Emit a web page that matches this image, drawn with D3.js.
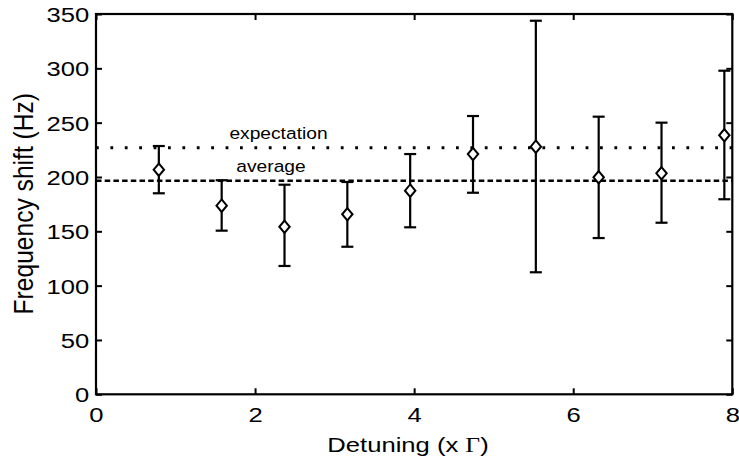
<!DOCTYPE html>
<html><head><meta charset="utf-8">
<script src="https://cdn.jsdelivr.net/npm/d3@7"></script>
<style>html,body{margin:0;padding:0;background:#fff;}svg{display:block;}</style>
</head><body>
<svg id="chart" width="739" height="464"></svg>
<script>
const detuning = [0.79, 1.58, 2.37, 3.16, 3.95, 4.74, 5.53, 6.32, 7.11, 7.90];
const shift    = [206.7, 173.6, 154.2, 165.7, 187.4, 221.1, 227.9, 199.7, 203.4, 238.4];
const errHigh  = [228.5, 197.0, 192.9, 195.4, 221.1, 256.1, 343.8, 255.5, 250.0, 297.8];
const errLow   = [185.0, 150.6, 118.1, 135.8, 153.7, 185.5, 112.3, 143.8, 157.9, 179.5];
const expectation = 226.9;
const average = 196.5;
const xTicks = [0, 2, 4, 6, 8];
const yTicks = [0, 50, 100, 150, 200, 250, 300, 350];

(function () {
const W = 739, H = 464;
const m = {left: 96, right: 739 - 732.3, top: 14, bottom: 464 - 394.3};
const svg = d3.select("#chart");
const x = d3.scaleLinear().domain([0, 8]).range([m.left, W - m.right]);
const y = d3.scaleLinear().domain([0, 350]).range([H - m.bottom, m.top]);
const SX = 1.22;
const font = "'Liberation Sans', Arial, Helvetica, sans-serif";

// reference lines
svg.append("line").attr("x1", x(0)).attr("x2", x(8)).attr("y1", y(expectation)).attr("y2", y(expectation))
  .attr("stroke", "#000").attr("stroke-width", 2.8).attr("stroke-dasharray", "2.8 11.6");
svg.append("line").attr("x1", x(0)).attr("x2", x(8)).attr("y1", y(average)).attr("y2", y(average))
  .attr("stroke", "#000").attr("stroke-width", 2.6).attr("stroke-dasharray", "5.5 3.2");

// axes
const gBottom = svg.append("g").attr("transform", `translate(0,${y(0)})`)
  .call(d3.axisBottom(x).tickValues(xTicks).tickSizeInner(-6).tickSizeOuter(0).tickFormat(d3.format("d")));
const gLeft = svg.append("g").attr("transform", `translate(${x(0)},0)`)
  .call(d3.axisLeft(y).tickValues(yTicks).tickSizeInner(-6).tickSizeOuter(0).tickPadding(5.5).tickFormat(d3.format("d")));
const gTop = svg.append("g").attr("transform", `translate(0,${y(350)})`)
  .call(d3.axisTop(x).tickValues(xTicks).tickSizeInner(-6).tickSizeOuter(0).tickFormat(""));
const gRight = svg.append("g").attr("transform", `translate(${x(8)},0)`)
  .call(d3.axisRight(y).tickValues(yTicks).tickSizeInner(-6).tickSizeOuter(0).tickFormat(""));
[gBottom, gLeft, gTop, gRight].forEach(g => {
  g.select(".domain").remove();
  g.selectAll(".tick line").attr("stroke", "#000").attr("stroke-width", 2);
});
gBottom.selectAll(".tick text").attr("y", 27.4).attr("dy", 0)
  .attr("font-family", font).attr("font-size", 21).attr("fill", "#000")
  .attr("transform", `scale(${SX},1)`);
gLeft.selectAll(".tick text").attr("dy", "0.36em")
  .attr("font-family", font).attr("font-size", 21).attr("fill", "#000")
  .attr("transform", `scale(${SX},1)`);

svg.append("rect").attr("x", x(0)).attr("y", y(350)).attr("width", x(8) - x(0)).attr("height", y(0) - y(350))
  .attr("fill", "none").attr("stroke", "#000").attr("stroke-width", 2.2);

// error bars
const pts = detuning.map((d, i) => ({x: d, v: shift[i], hi: errHigh[i], lo: errLow[i]}));
const eb = svg.append("g").attr("stroke", "#000").attr("stroke-width", 2.2);
pts.forEach(p => {
  eb.append("line").attr("x1", x(p.x)).attr("x2", x(p.x)).attr("y1", y(p.hi)).attr("y2", y(p.lo));
  eb.append("line").attr("x1", x(p.x) - 6).attr("x2", x(p.x) + 6).attr("y1", y(p.hi)).attr("y2", y(p.hi));
  eb.append("line").attr("x1", x(p.x) - 6).attr("x2", x(p.x) + 6).attr("y1", y(p.lo)).attr("y2", y(p.lo));
});
svg.append("g").selectAll("path").data(pts).join("path")
  .attr("d", p => {
    const cx = x(p.x), cy = y(p.v), a = 5.2, b = 6.2;
    return `M${cx},${cy - b}L${cx + a},${cy}L${cx},${cy + b}L${cx - a},${cy}Z`;
  })
  .attr("fill", "#fff").attr("stroke", "#000").attr("stroke-width", 2);

// annotations
svg.append("text").attr("transform", `translate(278.5,139) scale(1.13,1)`).attr("text-anchor", "middle")
  .attr("font-family", font).attr("font-size", 17).text("expectation");
svg.append("text").attr("transform", `translate(271,171.7) scale(1.13,1)`).attr("text-anchor", "middle")
  .attr("font-family", font).attr("font-size", 17).text("average");

// axis titles
const xt = svg.append("text").attr("transform", `translate(408,451.7) scale(${SX},1)`).attr("text-anchor", "middle")
  .attr("font-family", font).attr("font-size", 21);
xt.append("tspan").text("Detuning (x ");
xt.append("tspan").attr("font-family", "'Liberation Serif', 'Times New Roman', serif").text("Γ");
xt.append("tspan").text(")");
svg.append("text").attr("transform", `translate(32.5,203.7) scale(1,0.895) rotate(-90)`)
  .attr("text-anchor", "middle").attr("font-family", font).attr("font-size", 27.5).text("Frequency shift (Hz)");
})();
</script>
</body></html>
